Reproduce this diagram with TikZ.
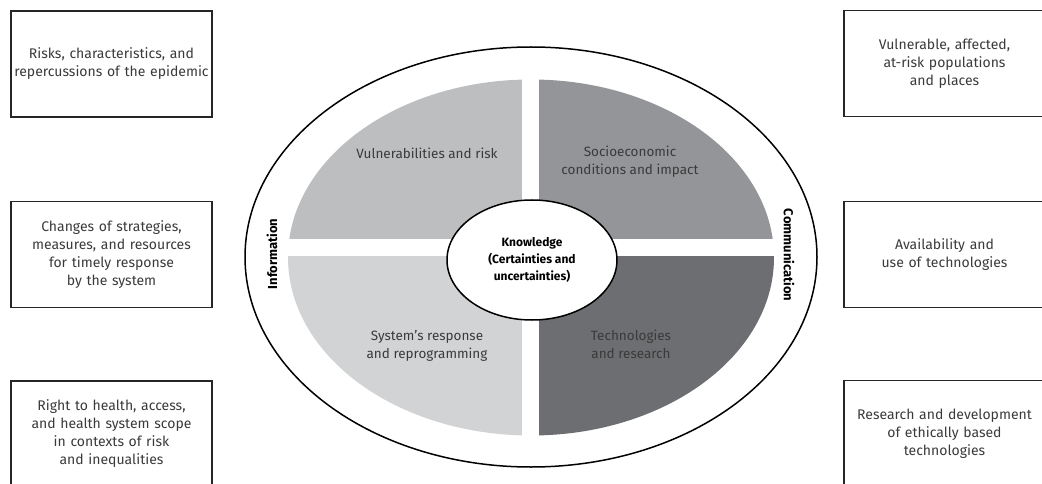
\documentclass[tikz,border=0pt]{standalone}
\usepackage{fontspec}
\setmainfont{Fira Sans}
\usetikzlibrary{shapes.geometric}
\definecolor{quadvuln}{HTML}{BCBEC0}
\definecolor{quadsocio}{HTML}{939598}
\definecolor{quadsys}{HTML}{D1D3D4}
\definecolor{quadtech}{HTML}{6D6E71}
\definecolor{inktext}{HTML}{3A3A3A}
\tikzset{
  infobox/.style={draw=black!85, line width=1.5pt, minimum width=201pt, minimum height=106pt,
    text width=195pt, align=center, inner sep=0pt, text=inktext, font=\fontsize{14}{18}\selectfont},
  quadlabel/.style={align=center, text=inktext, font=\fontsize{13.5}{18}\selectfont},
  sidelabel/.style={font=\fontsize{13}{15}\selectfont\bfseries},
}
\begin{document}
\begin{tikzpicture}[x=1pt,y=-1pt]
                \useasboundingbox (0,0) rectangle (1042,484);
                \clip (0,0) rectangle (1042,484);
                \begin{scope}
                    \clip (531,257.5) ellipse [x radius=243, y radius=178];
                    \fill[quadvuln] (280,70) rectangle (522,239);
                    \fill[quadsocio] (539,70) rectangle (782,239);
                    \fill[quadsys] (280,256) rectangle (522,445);
                    \fill[quadtech] (539,256) rectangle (782,445);
                \end{scope}
                \draw[line width=1.5pt] (531,257) ellipse [x radius=286, y radius=210];
                \node[draw, ellipse, fill=white, line width=1.5pt, minimum width=170pt, minimum height=120pt,
                    inner sep=0pt, align=center, font=\fontsize{12}{17}\selectfont\bfseries] (knowledge) at (532,260)
                    {Knowledge\\(Certainties and\\uncertainties)};
                \node[quadlabel] (vulnlabel) at (427,153) {Vulnerabilities and risk};
                \node[quadlabel] (sociolabel) at (630,162) {Socioeconomic\\conditions and impact};
                \node[quadlabel] (syslabel) at (427,346) {System's response\\and reprogramming};
                \node[quadlabel] (techlabel) at (631,344) {Technologies\\and research};
                \node[sidelabel, rotate=90] (information) at (272,254) {Information};
                \node[sidelabel, rotate=-90] (communication) at (789,255) {Communication};
                \node[infobox] (riskbox) at (111.5,64) {Risks, characteristics, and\\repercussions of the epidemic};
                \node[infobox] (changesbox) at (111.5,254.5) {Changes of strategies,\\measures, and resources\\for timely response\\by the system};
                \node[infobox] (rightsbox) at (111.5,434) {Right to health, access,\\and health system scope\\in contexts of risk\\and inequalities};
                \node[infobox] (populationbox) at (944.5,63.5) {Vulnerable, affected,\\at-risk populations\\and places};
                \node[infobox] (availabilitybox) at (944.5,254.5) {Availability and\\use of technologies};
                \node[infobox] (researchbox) at (944.5,433.5) {Research and development\\of ethically based\\technologies};
            \end{tikzpicture}
\end{document}
